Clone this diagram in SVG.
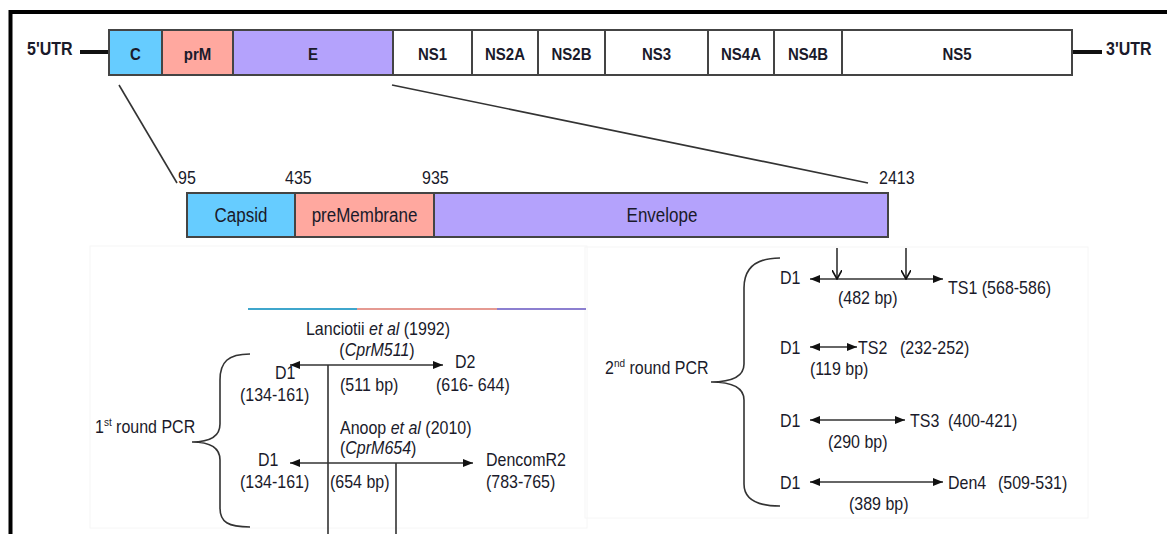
<svg xmlns="http://www.w3.org/2000/svg" width="1167" height="534" viewBox="0 0 1167 534">
<style>
text{font-family:"Liberation Sans",Arial,sans-serif;font-size:16px;fill:#1a1a2a;transform-box:fill-box;transform-origin:center;transform:scaleY(1.15)}
.b{font-weight:bold;font-size:15px}
.m{text-anchor:middle}
.big{font-size:17px}
.seg{stroke:#444;stroke-width:2}
.ln{stroke:#333;stroke-width:1.6;fill:none}
.faint{fill:none;stroke:#f6f6f6;stroke-width:1}
</style>
<defs>
<marker id="ah" viewBox="0 0 10 8" refX="10" refY="4" markerWidth="10" markerHeight="8" markerUnits="userSpaceOnUse" orient="auto-start-reverse"><path d="M0,0 L10,4 L0,8 z" fill="#111"/></marker>
<marker id="ov" viewBox="0 0 10 10" refX="9" refY="5" markerWidth="10" markerHeight="10" markerUnits="userSpaceOnUse" orient="auto"><path d="M0,0 L9,5 L0,10" fill="none" stroke="#111" stroke-width="1.6"/></marker>
</defs>
<rect width="1167" height="534" fill="#fff"/>
<rect class="faint" x="90" y="246" width="497" height="282"/>
<rect class="faint" x="585" y="247" width="503" height="271"/>
<path d="M10.5,534 V12 H1167" fill="none" stroke="#000" stroke-width="4"/>

<g id="genome">
<line x1="80" y1="52" x2="109" y2="52" stroke="#111" stroke-width="4"/>
<line x1="1072" y1="52" x2="1102" y2="52" stroke="#111" stroke-width="4"/>
<text class="b" x="27" y="54" style="font-size:16px">5'UTR</text>
<text class="b" x="1106" y="54" style="font-size:16px">3'UTR</text>
<g id="seg-C"><rect class="seg" x="109" y="30" width="53" height="45" fill="#66CCFF"/><text class="b m" x="135.5" y="59">C</text></g>
<g id="seg-prM"><rect class="seg" x="162" y="30" width="71" height="45" fill="#FFA89F"/><text class="b m" x="197.5" y="59">prM</text></g>
<g id="seg-E"><rect class="seg" x="233" y="30" width="160" height="45" fill="#B4A2FC"/><text class="b m" x="313" y="59">E</text></g>
<g id="seg-NS1"><rect class="seg" x="393" y="30" width="79" height="45" fill="#fff"/><text class="b m" x="432.5" y="59">NS1</text></g>
<g id="seg-NS2A"><rect class="seg" x="472" y="30" width="66" height="45" fill="#fff"/><text class="b m" x="505" y="59">NS2A</text></g>
<g id="seg-NS2B"><rect class="seg" x="538" y="30" width="67" height="45" fill="#fff"/><text class="b m" x="571.5" y="59">NS2B</text></g>
<g id="seg-NS3"><rect class="seg" x="605" y="30" width="103" height="45" fill="#fff"/><text class="b m" x="656.5" y="59">NS3</text></g>
<g id="seg-NS4A"><rect class="seg" x="708" y="30" width="66" height="45" fill="#fff"/><text class="b m" x="741" y="59">NS4A</text></g>
<g id="seg-NS4B"><rect class="seg" x="774" y="30" width="68" height="45" fill="#fff"/><text class="b m" x="808" y="59">NS4B</text></g>
<g id="seg-NS5"><rect class="seg" x="842" y="30" width="230" height="45" fill="#fff"/><text class="b m" x="957" y="59">NS5</text></g>
</g>

<g id="zoom-lines">
<line class="ln" x1="119" y1="85" x2="177" y2="183"/>
<line class="ln" x1="392" y1="85" x2="868" y2="183"/>
</g>

<g id="structural">
<text x="178" y="183">95</text>
<text x="285" y="183">435</text>
<text x="422" y="183">935</text>
<text x="879" y="183">2413</text>
<g id="seg-Capsid"><rect class="seg" x="187" y="193" width="108" height="44" fill="#66CCFF"/><text class="m big" x="241" y="221">Capsid</text></g>
<g id="seg-preMembrane"><rect class="seg" x="295" y="193" width="139" height="44" fill="#FFA89F"/><text class="m big" x="364.5" y="221">preMembrane</text></g>
<g id="seg-Envelope"><rect class="seg" x="434" y="193" width="454" height="44" fill="#B4A2FC"/><text class="m big" x="662" y="221">Envelope</text></g>
</g>

<g id="colorbar">
<line x1="248" y1="309" x2="357" y2="309" stroke="#3fa6cc" stroke-width="2"/>
<line x1="357" y1="309" x2="497" y2="309" stroke="#e59a92" stroke-width="2"/>
<line x1="497" y1="309" x2="586" y2="309" stroke="#8c7fd0" stroke-width="2"/>
</g>

<g id="connectors">
<line class="ln" x1="290" y1="365" x2="443" y2="365" marker-start="url(#ah)" marker-end="url(#ah)"/>
<line class="ln" x1="290" y1="463" x2="473" y2="463" marker-start="url(#ah)" marker-end="url(#ah)"/>
<line class="ln" x1="328" y1="365" x2="328" y2="534"/>
<line class="ln" x1="396" y1="463" x2="396" y2="534"/>
<path class="ln" d="M250,354 C228,354 220,362 220,380 L220,424 C220,437 210,442 192,442 C210,442 220,447 220,460 L220,508 C220,522 228,527 250,527"/>
<path class="ln" d="M780,258 C756,258 744,268 744,288 L744,364 C744,377 730,382 711,382 C730,382 744,387 744,400 L744,484 C744,499 756,506 780,506"/>
<line class="ln" x1="810" y1="279" x2="943" y2="279" marker-start="url(#ah)" marker-end="url(#ah)"/>
<line class="ln" x1="837" y1="248" x2="837" y2="279" marker-end="url(#ov)"/>
<line class="ln" x1="906" y1="248" x2="906" y2="279" marker-end="url(#ov)"/>
<line class="ln" x1="810" y1="347" x2="857" y2="347" marker-start="url(#ah)" marker-end="url(#ah)"/>
<line class="ln" x1="810" y1="420" x2="905" y2="420" marker-start="url(#ah)" marker-end="url(#ah)"/>
<line class="ln" x1="810" y1="482" x2="943" y2="482" marker-start="url(#ah)" marker-end="url(#ah)"/>
</g>

<g id="round1">
<text x="95" y="432">1<tspan font-size="10" dy="-6">st</tspan><tspan dy="6"> round PCR</tspan></text>
<text class="m" x="378" y="334">Lanciotii <tspan font-style="italic">et al</tspan> (1992)</text>
<text class="m" x="377" y="355">(<tspan font-style="italic">CprM511</tspan>)</text>
<text x="275" y="378">D1</text>
<text x="240" y="400">(134-161)</text>
<text x="340" y="390">(511 bp)</text>
<text x="455" y="367">D2</text>
<text x="436" y="390">(616- 644)</text>
<text x="340" y="433">Anoop <tspan font-style="italic">et al</tspan> (2010)</text>
<text x="340" y="453">(<tspan font-style="italic">CprM654</tspan>)</text>
<text x="258" y="465">D1</text>
<text x="240" y="487">(134-161)</text>
<text x="330" y="487">(654 bp)</text>
<text x="486" y="465">DencomR2</text>
<text x="486" y="487">(783-765)</text>
</g>

<g id="round2">
<text x="605" y="373">2<tspan font-size="10" dy="-6">nd</tspan><tspan dy="6"> round PCR</tspan></text>
<text x="780" y="283">D1</text>
<text x="838" y="303">(482 bp)</text>
<text x="948" y="293">TS1 (568-586)</text>
<text x="780" y="353">D1</text>
<text x="858" y="353">TS2</text>
<text x="900" y="353">(232-252)</text>
<text x="810" y="374">(119 bp)</text>
<text x="780" y="426">D1</text>
<text x="910" y="426">TS3</text>
<text x="948" y="426">(400-421)</text>
<text x="828" y="447">(290 bp)</text>
<text x="780" y="488">D1</text>
<text x="948" y="488">Den4</text>
<text x="998" y="488">(509-531)</text>
<text x="849" y="509">(389 bp)</text>
</g>
</svg>
